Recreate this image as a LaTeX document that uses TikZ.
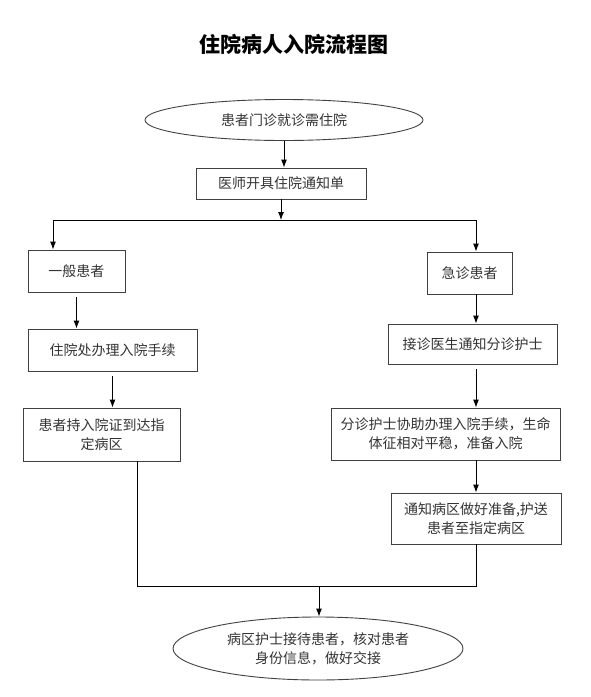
\documentclass[tikz,border=0pt]{standalone}
\usepackage{fontspec}
\newfontfamily\cjk{Noto Sans CJK SC}
\usetikzlibrary{shapes.geometric,arrows.meta}
\tikzset{
    box/.style={draw=black!75, rectangle, align=center, inner sep=0pt, font=\cjk\fontsize{14}{19}\selectfont, text=black!80},
    oval/.style={box, ellipse},
}
\begin{document}
\begin{tikzpicture}[x=1pt, y=-1pt, line width=0.9pt, >={Latex[length=8pt,width=6pt]}]
    \useasboundingbox (0,0) rectangle (591,697);
    \node (title) at (294,44) {\cjk\bfseries\fontsize{21}{24}\selectfont 住院病人入院流程图};
    \node[oval, minimum width=278pt, minimum height=41pt] (visit) at (284,120) {患者门诊就诊需住院};
    \node[box, minimum width=170pt, minimum height=31pt] (notice) at (281,183.5) {医师开具住院通知单};
    \node[box, minimum width=97pt, minimum height=42pt] (common) at (76.5,271) {一般患者};
    \node[box, minimum width=85pt, minimum height=42pt] (emerg) at (469.5,273) {急诊患者};
    \node[box, minimum width=169pt, minimum height=42pt] (office) at (112.5,350) {住院处办理入院手续};
    \node[box, minimum width=169pt, minimum height=40pt] (doctor) at (472.5,344) {接诊医生通知分诊护士};
    \node[box, minimum width=157pt, minimum height=53pt] (ward) at (101.5,434.5) {患者持入院证到达指\\定病区};
    \node[box, minimum width=229pt, minimum height=52pt] (triage) at (445.5,434) {分诊护士协助办理入院手续，生命\\体征相对平稳，准备入院};
    \node[box, minimum width=170pt, minimum height=51pt] (escort) at (476,518.5) {通知病区做好准备,护送\\患者至指定病区};
    \node[oval, minimum width=290pt, minimum height=63pt] (receive) at (318,648.5) {病区护士接待患者，核对患者\\身份信息，做好交接};

    \coordinate (lfork) at (53,220);
    \coordinate (rfork) at (476,220);
    \coordinate (merge) at (319,586);
    \coordinate (lmerge) at (137,586);

    \draw[->] (visit) -- (visit |- notice.north);
    \draw[->] (notice) -- (notice |- lfork);
    \draw (lfork) -- (rfork);
    \draw[->] (lfork) -- (lfork |- common.north);
    \draw[->] (rfork) -- (rfork |- emerg.north);
    \draw[->, shorten <=5pt] (common.south) -- (common.south |- office.north);
    \draw[->, shorten <=5pt] (office.south) -- (office.south |- ward.north);
    \draw[->] (rfork |- emerg.south) -- (rfork |- doctor.north);
    \draw[->, shorten <=5pt] (rfork |- doctor.south) -- (rfork |- triage.north);
    \draw[->] (rfork |- triage.south) -- (escort.north);
    \draw (escort.south) |- (lmerge) -- (lmerge |- ward.south);
    \draw[->] (merge) -- (merge |- receive.north);
\end{tikzpicture}
\end{document}
